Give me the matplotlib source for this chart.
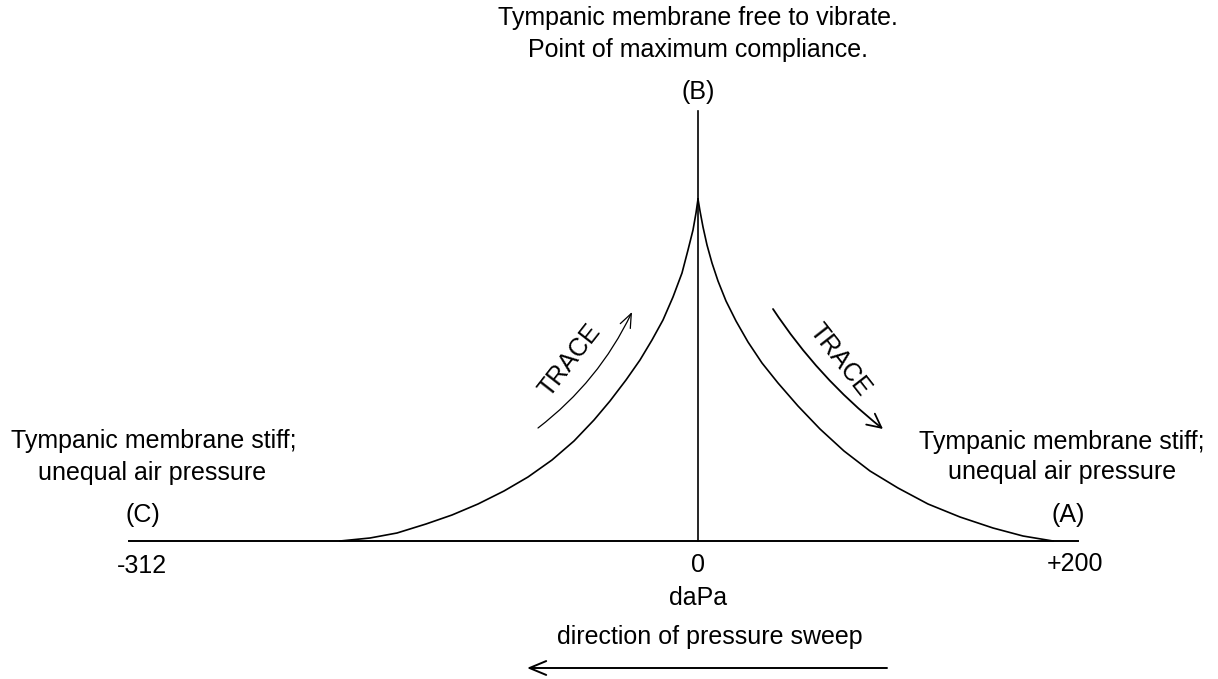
import matplotlib
matplotlib.use("Agg")
import matplotlib.pyplot as plt
from matplotlib.patches import FancyArrowPatch

plt.rcParams['font.family'] = ['Liberation Sans', 'DejaVu Sans']

# Schematic tympanogram (pressure position vs compliance, arbitrary units)
left_x = [0, -2, -5, -10, -16, -25, -35, -46, -58, -72, -88, -104, -124, -146, -170,
          -194, -220, -246, -272, -301, -328, -358]
left_y = [342, 328, 311, 291, 268, 244, 221, 201, 181, 161, 140, 121, 100, 81, 64,
          50, 37, 26, 17, 8, 3, 0]
right_x = [0, 2, 5, 9, 14, 20, 28, 38, 50, 64, 80, 100, 122, 146, 172, 200, 230, 262,
           295, 325, 355]
right_y = [342, 330, 314, 296, 278, 260, 240, 220, 199, 178, 158, 135, 112, 90, 70,
           53, 37, 24, 13, 5, 0]

axis_start, axis_end = -569, 380
peak_line_top = 430

tick_labels = ["-312", "0", "+200"]
point_labels = ["(C)", "(B)", "(A)"]
top_text = ["Tympanic membrane free to vibrate.", "Point of maximum compliance."]
side_text = ["Tympanic membrane stiff;", "unequal air pressure"]

fig = plt.figure(figsize=(12.18, 6.79), dpi=100)
ax = fig.add_axes([0, 0, 1, 1])
ax.set_xlim(-698, 520)
ax.set_ylim(-138, 541)
ax.axis('off')

fs = 18
# baseline and vertical
ax.plot([axis_start, axis_end], [0, 0], color='black', lw=1.4)
ax.plot([0, 0], [0, peak_line_top], color='black', lw=1.2)
# curves
ax.plot(left_x, left_y, color='black', lw=1.2, solid_joinstyle='round')
ax.plot(right_x, right_y, color='black', lw=1.2, solid_joinstyle='round')

# texts
ax.text(0, 523, top_text[0], ha='center', va='center', fontsize=fs)
ax.text(0, 491, top_text[1], ha='center', va='center', fontsize=fs)
ax.text(0, 449, point_labels[1], ha='center', va='center', fontsize=fs)

ax.text(-544, 100, side_text[0], ha='center', va='center', fontsize=fs)
ax.text(-546, 68, side_text[1], ha='center', va='center', fontsize=fs)
ax.text(-555, 26, point_labels[0], ha='center', va='center', fontsize=fs)
ax.text(-556, -25, tick_labels[0], ha='center', va='center', fontsize=fs)

ax.text(364, 99, side_text[0], ha='center', va='center', fontsize=fs)
ax.text(364, 69, side_text[1], ha='center', va='center', fontsize=fs)
ax.text(370, 26, point_labels[2], ha='center', va='center', fontsize=fs)
ax.text(377, -23, tick_labels[2], ha='center', va='center', fontsize=fs)

ax.text(0, -24, tick_labels[1], ha='center', va='center', fontsize=fs)
ax.text(0, -57, "daPa", ha='center', va='center', fontsize=fs)
ax.text(12, -96, "direction of pressure sweep", ha='center', va='center', fontsize=fs)

# TRACE labels and arrows
ax.text(-128, 181, "TRACE", ha='center', va='center', fontsize=fs, rotation=52,
        rotation_mode='anchor')
ax.text(142, 181, "TRACE", ha='center', va='center', fontsize=fs, rotation=-52,
        rotation_mode='anchor')

a1 = FancyArrowPatch((-160, 113), (-66, 229), connectionstyle="arc3,rad=0.12",
                     arrowstyle="->,head_length=10,head_width=4", color='black', lw=0.9,
                     shrinkA=0, shrinkB=0)
ax.add_patch(a1)
a2 = FancyArrowPatch((75, 232), (185, 112), connectionstyle="arc3,rad=0.08",
                     arrowstyle="->,head_length=10,head_width=5", color='black', lw=1.3,
                     shrinkA=0, shrinkB=0)
ax.add_patch(a2)
a3 = FancyArrowPatch((189, -127), (-171, -127),
                     arrowstyle="->,head_length=12,head_width=5", color='black', lw=1.4,
                     shrinkA=0, shrinkB=0)
ax.add_patch(a3)

fig.savefig("out.png", dpi=100, facecolor='white')
